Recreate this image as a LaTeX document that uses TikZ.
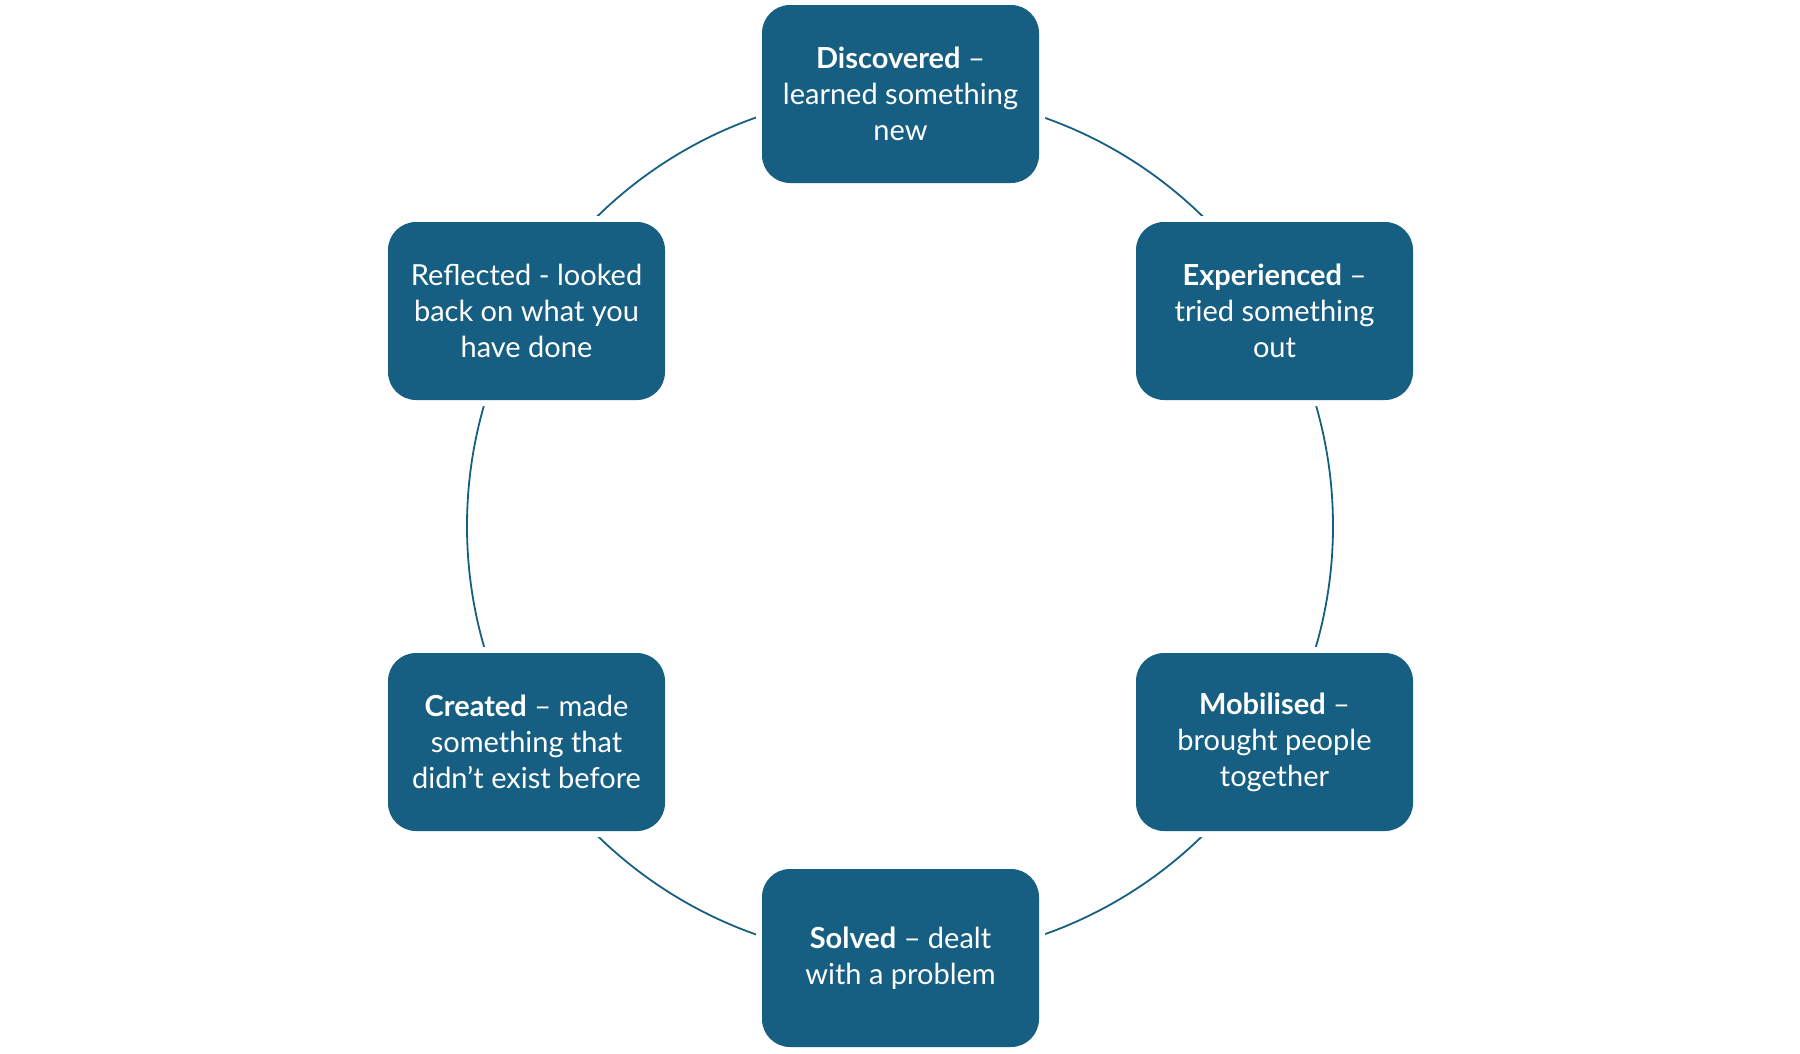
\documentclass[tikz,border=0pt]{standalone}
\usepackage{fontspec}
\setmainfont{Lato}
\definecolor{boxblue}{HTML}{165F82}
\begin{document}
\begin{tikzpicture}[x=1pt,y=-1pt,
  stagebox/.style={preaction={draw=white,line width=12pt}, fill=boxblue, rounded corners=28pt,
    minimum width=277pt, minimum height=178pt, text=white, align=center,
    font=\fontsize{29}{36}\selectfont, inner sep=0pt},
  ring/.style={draw=boxblue, line width=1.8pt}]
\useasboundingbox (0,0) rectangle (1800,1053);
\coordinate (c) at (900,526);
\draw[ring] (c) circle[radius=433];
\node[stagebox] (disc) at (900.5,94) {\textbf{Discovered} –\\learned something\\new};
\node[stagebox] (expe) at (1274.5,311) {\textbf{Experienced} –\\tried something\\out};
\node[stagebox] (mobi) at (1274.5,742) {\textbf{Mobilised} –\\brought people\\together};
\node[stagebox] (solv) at (900.5,958) {\textbf{Solved} – dealt\\with a problem};
\node[stagebox] (crea) at (526.5,742) {\textbf{Created} – made\\something that\\didn’t exist before};
\node[stagebox] (refl) at (526.5,311) {Reflected - looked\\back on what you\\have done};
\end{tikzpicture}
\end{document}
